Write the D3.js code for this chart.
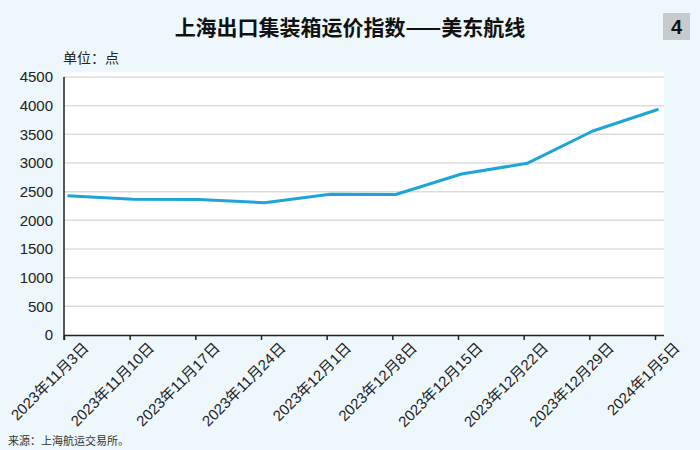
<!DOCTYPE html>
<html><head><meta charset="utf-8">
<script src="https://cdn.jsdelivr.net/npm/d3@7"></script>
<style>
html,body{margin:0;padding:0;background:#eef7fb;}
svg{display:block;}
</style></head><body>
<svg id="chart" width="700" height="450"></svg>
<script>
const title = "上海出口集装箱运价指数——美东航线";
const unitLabel = "单位：点";
const sourceNote = "来源：上海航运交易所。";
const badge = "4";
const dates = ["2023年11月3日","2023年11月10日","2023年11月17日","2023年11月24日","2023年12月1日","2023年12月8日","2023年12月15日","2023年12月22日","2023年12月29日","2024年1月5日"];
const values = [2430, 2367, 2365, 2308, 2454, 2451, 2808, 2994, 3558, 3937];
const yTicks = [0, 500, 1000, 1500, 2000, 2500, 3000, 3500, 4000, 4500];

const svg = d3.select("#chart");
const W = 700, H = 450;
svg.append("rect").attr("width", W).attr("height", H).attr("fill", "#eef7fb");

const plot = {left: 64, right: 664, top: 72, bottom: 335};
svg.append("rect").attr("x", plot.left - 1).attr("y", plot.top)
  .attr("width", plot.right - plot.left + 1).attr("height", plot.bottom - plot.top)
  .attr("fill", "#ffffff");

const x = d3.scalePoint().domain(dates).range([64, 655]);
const y = d3.scaleLinear().domain([0, 4500]).range([335, 77]);
const pointShift = 3.5;

// gridlines
svg.append("g").selectAll("line").data(yTicks.filter(d => d > 0)).join("line")
  .attr("x1", plot.left).attr("x2", plot.right)
  .attr("y1", d => y(d)).attr("y2", d => y(d))
  .attr("stroke", "#dcdcdc").attr("stroke-width", 1.5);

// y axis
const yAxis = svg.append("g").attr("transform", `translate(${plot.left},0)`)
  .call(d3.axisLeft(y).tickValues(yTicks).tickSize(0).tickPadding(11).tickFormat(d3.format("d")));
yAxis.select(".domain").remove();
yAxis.selectAll("text").attr("font-family", "'Liberation Sans', Arial, sans-serif")
  .attr("font-size", 15).attr("fill", "#222");
svg.append("line").attr("x1", plot.left).attr("x2", plot.left)
  .attr("y1", 77).attr("y2", 340).attr("stroke", "#222").attr("stroke-width", 1.5);

// x axis
const xAxis = svg.append("g").attr("transform", `translate(0,${plot.bottom})`)
  .call(d3.axisBottom(x).tickSize(5).tickSizeOuter(0));
xAxis.select(".domain").attr("d", `M${plot.left},0.5H${plot.right}`).attr("stroke", "#222").attr("stroke-width", 1.5);
xAxis.selectAll(".tick line").attr("stroke", "#222").attr("stroke-width", 1.5);
xAxis.selectAll("text")
  .attr("font-family", "'Liberation Sans', 'Noto Sans CJK SC', sans-serif")
  .attr("font-size", 15).attr("fill", "#222")
  .attr("text-anchor", "end")
  .attr("dy", 0).attr("y", 0)
  .attr("transform", "translate(25,14) rotate(-45)");

// line
const line = d3.line().x(d => x(d.date) + pointShift).y(d => y(d.value));
svg.append("path").datum(dates.map((d, i) => ({date: d, value: values[i]})))
  .attr("d", line).attr("fill", "none").attr("stroke", "#1ca5d6")
  .attr("stroke-width", 3).attr("stroke-linejoin", "round");

// title
svg.append("text").attr("x", 350).attr("y", 35).attr("text-anchor", "middle")
  .attr("font-family", "'Noto Sans CJK SC', sans-serif").attr("font-weight", "bold")
  .attr("font-size", 21).attr("fill", "#111").text(title);

// badge
svg.append("rect").attr("x", 663).attr("y", 13).attr("width", 27).attr("height", 27).attr("fill", "#c8cbcd");
svg.append("text").attr("x", 676.5).attr("y", 34).attr("text-anchor", "middle")
  .attr("font-family", "'Liberation Sans', Arial, sans-serif").attr("font-weight", "bold")
  .attr("font-size", 20).attr("fill", "#111").text(badge);

// unit
svg.append("text").attr("x", 63).attr("y", 63)
  .attr("font-family", "'Noto Sans CJK SC', sans-serif")
  .attr("font-size", 14).attr("fill", "#222").text(unitLabel);

// source
svg.append("text").attr("x", 8).attr("y", 445)
  .attr("font-family", "'Noto Sans CJK SC', sans-serif")
  .attr("font-size", 11).attr("fill", "#333").text(sourceNote);
</script>
</body></html>
